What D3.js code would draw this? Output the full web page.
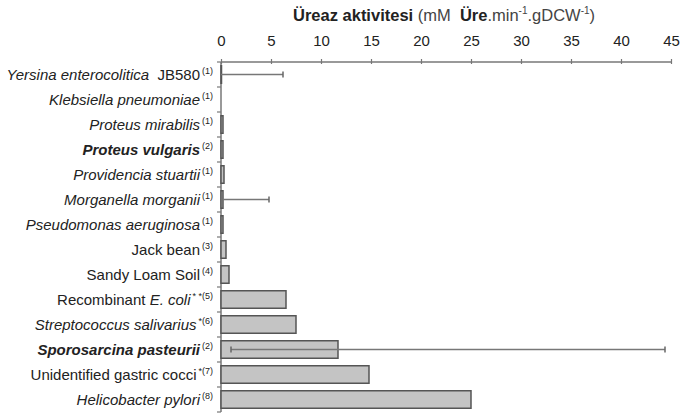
<!DOCTYPE html>
<html>
<head>
<meta charset="utf-8">
<script src="https://cdn.jsdelivr.net/npm/d3@7"></script>
<style>
  body { margin: 0; background: #fff; }
  text { font-family: "Liberation Sans", Arial, sans-serif; }
</style>
</head>
<body>
<div id="chart"></div>
<script>
/* categories: label pieces [text, style] ; style i = italic, b = bold italic, n = normal */
const labelParts = [
  [["Yersina enterocolitica", "i"], ["\u00a0 JB580", "n"]],
  [["Klebsiella pneumoniae", "i"]],
  [["Proteus mirabilis", "i"]],
  [["Proteus vulgaris", "b"]],
  [["Providencia stuartii", "i"]],
  [["Morganella morganii", "i"]],
  [["Pseudomonas aeruginosa", "i"]],
  [["Jack bean", "n"]],
  [["Sandy Loam Soil", "n"]],
  [["Recombinant ", "n"], ["E. coli", "i"]],
  [["Streptococcus salivarius", "i"]],
  [["Sporosarcina pasteurii", "b"]],
  [["Unidentified gastric cocci", "n"]],
  [["Helicobacter pylori", "i"]]
];
const refs = ["(1)", "(1)", "(1)", "(2)", "(1)", "(1)", "(1)", "(3)", "(4)", "* *(5)", "*(6)", "(2)", "*(7)", "(8)"];

/* series values (mM Üre.min-1.gDCW-1) */
const values  = [0.05, 0, 0.2, 0.2, 0.3, 0.2, 0.2, 0.5, 0.8, 6.5, 7.5, 11.7, 14.8, 25.0];
const errLow  = [0, null, null, null, null, 0.2, null, null, null, null, null, 1.0, null, null];
const errHigh = [6.2, null, null, null, null, 4.8, null, null, null, null, null, 44.4, null, null];

/* x tick labels */
const xTicks = [0, 5, 10, 15, 20, 25, 30, 35, 40, 45];

const W = 683, H = 417;
const x0 = 221, x1 = 671, yTop = 62, yBot = 412;

const svg = d3.select("#chart").append("svg")
  .attr("width", W).attr("height", H);

const ids = d3.range(values.length);
const x = d3.scaleLinear().domain([0, 45]).range([x0, x1]);
const y = d3.scaleBand().domain(ids).range([yTop, yBot]).paddingInner(0.3).paddingOuter(0.15);
const yb = d3.scaleBand().domain(ids).range([yTop, yBot]);

/* title */
const title = svg.append("text").attr("x", 293).attr("y", 21)
  .style("font-size", "16.5px").attr("fill", "#222");
title.append("tspan").text("Üreaz aktivitesi").style("font-weight", "bold");
title.append("tspan").text(" (mM\u00a0\u00a0").attr("fill", "#444");
title.append("tspan").text("Üre").style("font-weight", "bold");
title.append("tspan").text(".min").attr("fill", "#444");
title.append("tspan").text("-1").style("font-size", "10px").attr("dy", -7).attr("fill", "#444");
title.append("tspan").text(".gDCW").attr("dy", 7).attr("fill", "#444");
title.append("tspan").text("-1").style("font-size", "10px").attr("dy", -7).attr("fill", "#444");
title.append("tspan").text(")").attr("dy", 7).attr("fill", "#444");

/* top x axis */
const xAxis = svg.append("g").attr("transform", `translate(0,${yTop})`)
  .call(d3.axisTop(x).tickValues(xTicks).tickSize(3).tickPadding(13));
xAxis.select(".domain").attr("stroke", "#777").attr("stroke-width", 1.5).attr("d", `M${x0},0H${x1}`);
xAxis.selectAll(".tick line").attr("stroke", "#777").attr("stroke-width", 1.2).attr("y2", -3).attr("y1", 2);
xAxis.selectAll(".tick text").attr("fill", "#222").style("font-size", "15px").attr("font-family", null);

/* left y axis with ticks on band boundaries */
svg.append("line").attr("x1", x0).attr("x2", x0).attr("y1", yTop).attr("y2", yBot)
  .attr("stroke", "#777").attr("stroke-width", 1.5);
svg.selectAll(".ytick").data(d3.range(values.length + 1)).enter().append("line")
  .attr("x1", x0 - 4).attr("x2", x0)
  .attr("y1", d => yTop + d * yb.step()).attr("y2", d => yTop + d * yb.step())
  .attr("stroke", "#777").attr("stroke-width", 1.2);

/* bars */
svg.selectAll(".bar").data(ids.filter(i => values[i] > 0)).enter().append("rect")
  .attr("x", x(0))
  .attr("y", i => y(i))
  .attr("width", i => x(values[i]) - x(0))
  .attr("height", y.bandwidth())
  .attr("fill", "#c4c4c4").attr("stroke", "#555").attr("stroke-width", 1.5);

/* error bars */
const errs = ids.filter(i => errHigh[i] != null);
const cy = i => yb(i) + yb.bandwidth() / 2;
svg.selectAll(".err").data(errs).enter().append("line")
  .attr("x1", i => x(errLow[i])).attr("x2", i => x(errHigh[i]))
  .attr("y1", cy).attr("y2", cy)
  .attr("stroke", "#777").attr("stroke-width", 1.5);
svg.selectAll(".capHi").data(errs).enter().append("line")
  .attr("x1", i => x(errHigh[i])).attr("x2", i => x(errHigh[i]))
  .attr("y1", i => cy(i) - 3).attr("y2", i => cy(i) + 3)
  .attr("stroke", "#666").attr("stroke-width", 1.5);
svg.selectAll(".capLo").data(errs.filter(i => errLow[i] > 0.5)).enter().append("line")
  .attr("x1", i => x(errLow[i])).attr("x2", i => x(errLow[i]))
  .attr("y1", i => cy(i) - 3).attr("y2", i => cy(i) + 3)
  .attr("stroke", "#666").attr("stroke-width", 1.5);

/* category labels */
const lab = svg.selectAll(".lab").data(ids).enter().append("text")
  .attr("x", 213).attr("y", i => cy(i)).attr("dy", "0.36em")
  .attr("text-anchor", "end").attr("fill", "#222").style("font-size", "15px");
lab.each(function(i) {
  const t = d3.select(this);
  labelParts[i].forEach(p => {
    t.append("tspan").text(p[0])
      .style("font-style", p[1] === "n" ? "normal" : "italic")
      .style("font-weight", p[1] === "b" ? "bold" : "normal");
  });
  t.append("tspan").text(refs[i]).style("font-size", "9px").attr("dy", -6).attr("dx", 2)
    .style("font-style", "normal");
});
</script>
</body>
</html>
